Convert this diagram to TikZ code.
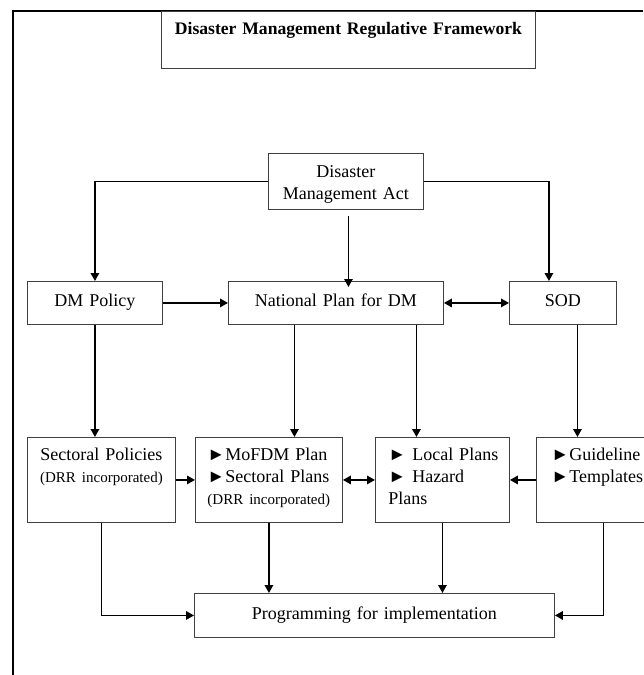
\documentclass[tikz,border=0pt]{standalone}
\usepackage{fontspec}
\setmainfont{Liberation Serif}
\usetikzlibrary{arrows.meta}

\begin{document}
\begin{tikzpicture}[x=1pt,y=-1pt,
  font=\fontsize{18}{22}\selectfont,
  box/.style={draw=black!75, line width=0.9pt, inner sep=0pt, anchor=north west, align=center},
  lbox/.style={box, align=left},
  line/.style={line width=1.6pt},
  arr/.style={line, -{Triangle[length=8pt,width=8.5pt]}},
  darr/.style={line, {Triangle[length=8pt,width=8.5pt]}-{Triangle[length=8pt,width=8.5pt]}}]
\useasboundingbox (0,0) rectangle (643,675);
\draw [line width=1.6pt] (13,675) -- (13,11) -- (643,11);

\node [box, text width=374pt, text height=23pt, text depth=34pt, font=\fontsize{17.6}{22}\selectfont\bfseries] (title) at (161,11) {Disaster Management Regulative Framework};
\node [box, text width=155pt, text height=24pt, text depth=32pt] (dma) at (268,153) {Disaster\\Management Act};

\node [box, text width=135pt, text height=25pt, text depth=18pt] (dmp) at (27,281) {DM Policy};
\node [box, text width=215pt, text height=25pt, text depth=18pt] (np) at (228,281) {National Plan for DM};
\node [box, text width=107pt, text height=25pt, text depth=18pt] (sod) at (509,281) {SOD};

\node [box, text width=148pt, text height=23pt, text depth=62pt] (sp) at (27,437) {Sectoral Policies\\{\fontsize{15}{18}\selectfont (DRR incorporated)}};
\node [lbox, inner xsep=12pt, text width=123pt, text height=23pt, text depth=62pt] (mp) at (195,437) {►MoFDM Plan\\►Sectoral Plans\\{\fontsize{15}{18}\selectfont (DRR incorporated)}};
\node [lbox, inner xsep=13pt, text width=108pt, text height=23pt, text depth=62pt] (lp) at (375,437) {\mbox{► Local Plans}\\► Hazard\\Plans};
\node [lbox, inner xsep=15pt, text width=104pt, text height=23pt, text depth=62pt] (gl) at (536,437) {►Guideline\\►Templates};

\node [box, text width=360pt, text height=26pt, text depth=18pt] (prog) at (194,593) {Programming for implementation};

\draw [arr] (dma.west) -| (dmp.north);
\draw [arr] (dma.east) -| ([xshift=-14pt]sod.north);
\draw [arr] ([xshift=2.5pt,yshift=-6pt]dma.south) -- ([xshift=2.5pt,yshift=-6pt]dma.south |- np.north);
\draw [arr] (dmp.east) -- (np.west);
\draw [darr] (np.east) -- (sod.west);

\draw [arr] (dmp.south) -- (dmp.south |- sp.north);
\draw [arr] ([xshift=-41.5pt]np.south) -- ([xshift=-41.5pt]np.south |- mp.north);
\draw [arr] ([xshift=80.5pt]np.south) -- ([xshift=80.5pt]np.south |- lp.north);
\draw [arr] ([xshift=14.5pt]sod.south) -- ([xshift=14.5pt]sod.south |- gl.north);

\draw [arr] (sp.east) -- (mp.west);
\draw [darr] (mp.east) -- (lp.west);
\draw [arr] (gl.west) -- (lp.east);

\draw [arr] (sp.south) |- (prog.west);
\draw [arr] (mp.south) -- (mp.south |- prog.north);
\draw [arr] (lp.south) -- (lp.south |- prog.north);
\draw [arr] (gl.south) |- (prog.east);
\end{tikzpicture}
\end{document}
